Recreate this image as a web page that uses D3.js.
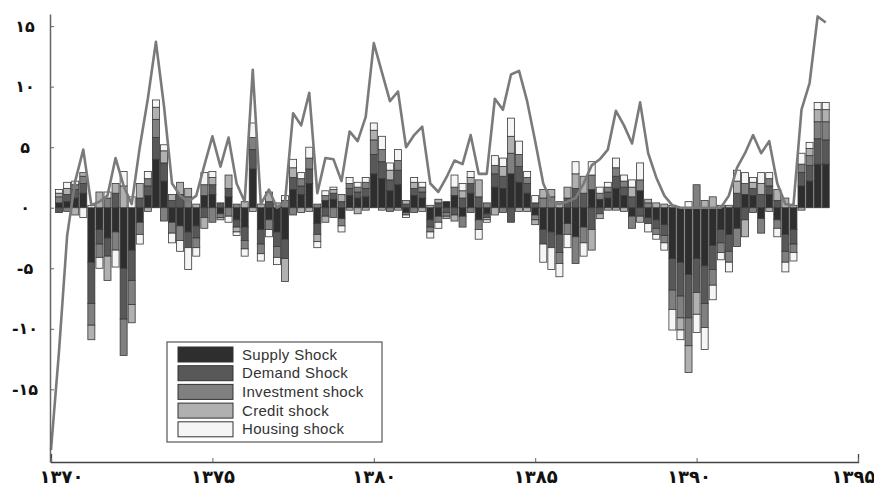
<!DOCTYPE html>
<html>
<head>
<meta charset="utf-8">
<script src="https://cdn.jsdelivr.net/npm/d3@7"></script>
<style>
  body { margin: 0; background: #fff; }
  .tick text { font-family: "DejaVu Sans", sans-serif; font-weight: bold; fill: #111; }
</style>
</head>
<body>
<div id="chart"></div>
<script>
// decomposition of the series into 5 shocks, quarterly 1370Q2 .. 1394Q1
var svgWidth = 874;
var svgHeight = 494;

var shockKeys = ["supply", "demand", "investment", "credit", "housing"];
var shockNames = ["Supply Shock", "Demand Shock", "Investment shock", "Credit shock", "Housing shock"];
var shockColors = ["#2e2e2e", "#585858", "#808080", "#b0b0b0", "#f5f5f5"];

// bar positions (quarters)
var quarters = d3.range(96).map(i => 1370.25 + i * 0.25);

var supply = [0.4, 0.5, 0.8, 1.2, -4.5, -1.8, -2.5, -2.0, -5.0, -3.5,
  -1.2, 1.0, 4.0, 2.2, -1.2, -1.5, -2.0, -1.5, 1.0, 1.1,
  -0.5, 0.9, -1.0, -1.6, 3.2, -1.8, -1.0, -2.0, -2.6, 1.5,
  1.1, 2.0, -1.3, 0.6, 0.7, -0.9, 1.0, 0.8, 0.9, 2.8,
  2.4, 1.4, 1.9, -0.4, 1.0, 0.8, -1.0, -0.7, 0.5, 1.0,
  -0.7, 1.2, -1.0, -0.5, 1.7, 1.6, 2.8, 2.1, 1.2, -0.6,
  -1.8, -2.0, -2.2, -1.3, -2.4, -1.6, 1.5, 0.7, 0.8, 1.6,
  1.0, -0.7, 1.4, -0.8, -1.0, -1.4, -4.2, -4.5, -5.5, -4.2,
  -4.8, -3.1, -1.8, -2.2, -1.7, 1.1, 1.0, -0.9, 1.1, -1.0,
  -2.2, -1.8, 1.8, 2.2, 3.6, 3.6];
var demand = [-0.4, 0.6, 0.7, 0.8, -3.4, -1.2, -1.5, 1.2, -4.2, -2.5,
  0.8, 0.8, 1.8, 1.5, 0.6, 1.1, -1.3, -1.0, -0.8, 0.8,
  0.4, 0.7, -0.6, -1.1, 1.6, -1.2, 0.5, -1.2, -1.6, 1.0,
  0.7, 1.2, -0.9, -0.7, 0.5, 0.5, 0.6, 0.5, 0.7, 1.6,
  1.4, 0.9, 1.2, 0.3, 0.6, 0.5, -0.6, 0.4, -0.4, -0.6,
  0.8, 0.8, 0.9, -0.3, 1.1, 1.0, -1.2, 1.3, 0.8, 0.4,
  -1.2, -1.3, -1.5, 0.8, 1.6, 1.2, -1.8, -0.5, 0.5, 1.0,
  0.7, 0.9, -0.7, -0.5, -0.7, -0.9, -2.6, -2.8, -3.6, -2.8,
  -3.1, -2.0, -1.1, -1.4, 1.2, -1.0, 0.6, 1.1, 0.7, 0.6,
  -1.4, -1.2, 1.1, 1.3, 2.1, 2.0];
var investment = [0.5, -0.3, 0.4, 0.6, -1.8, -1.1, 0.8, -1.5, -3.0, -2.0,
  -1.0, 0.6, 1.5, -1.1, -0.9, -1.2, 0.9, -0.8, 0.9, -1.2,
  -0.3, -0.7, 0.3, -0.7, 1.0, -0.8, -0.8, -0.9, 0.6, -0.6,
  0.6, 0.9, 0.3, 0.4, -0.8, -0.6, 0.4, 0.4, 0.5, 1.2,
  1.0, -0.3, 0.8, -0.2, -0.4, 0.4, -0.4, -0.5, -0.3, 0.7,
  -0.9, -0.4, -0.8, 0.4, 0.7, -0.4, 1.7, 1.0, 0.5, -0.4,
  0.8, 0.9, -0.9, -0.9, -2.2, -1.3, 1.2, 0.5, 0.4, 0.7,
  0.5, -1.0, 0.9, 0.4, -0.5, -0.6, -1.6, -1.8, -2.3, 1.9,
  -2.0, -1.3, -0.8, -0.9, -1.5, 0.9, -0.4, -1.2, 0.6, -0.7,
  -0.9, -0.7, 0.7, 0.8, 1.4, 1.5];
var credit = [0.3, 0.5, -0.6, 0.3, -1.2, 1.3, -2.0, 0.8, 1.8, -1.5,
  1.2, -0.3, 1.0, 1.0, 0.5, 1.0, 0.7, 0.3, -0.9, 0.6,
  -0.2, 1.1, -0.4, 0.5, -0.3, 0.3, 0.8, 0.4, -1.9, 0.8,
  -0.4, -0.3, -0.6, -0.5, 0.3, 0.6, -0.2, -0.5, -0.2, 0.8,
  -0.2, 0.8, -0.2, 0.3, 0.5, -0.3, 0.2, 0.3, -0.2, -0.5,
  0.6, 0.5, 1.4, -0.2, -0.6, 0.8, 1.4, -0.3, -0.3, -0.4,
  0.7, 0.6, 0.5, 0.9, 1.2, 1.4, -1.7, -0.4, -0.2, -0.2,
  -0.3, 0.8, -0.5, 0.3, 0.4, 0.3, 0.2, -1.0, -2.2, -1.8,
  0.6, 0.9, 0.2, 0.2, 1.0, -1.4, 0.5, 0.9, -0.3, 0.9,
  0.8, 0.2, -0.2, 0.6, 1.0, 1.0];
var housing = [0.3, 0.5, 0.3, -0.8, 0.2, -0.9, 0.5, -1.4, 1.2, 0.9,
  -0.8, 0.6, 0.6, 0.5, -0.8, -0.9, -1.8, -0.7, 1.0, 0.5,
  0.0, -0.5, -0.3, -0.6, 1.2, -0.6, -0.6, -0.6, 0.4, 0.7,
  0.5, 0.9, -0.5, 0.4, 0.2, -0.5, 0.5, 0.4, 0.4, 0.6,
  1.1, 0.6, 0.9, -0.2, 0.4, 0.4, -0.5, -0.5, 0.0, 1.0,
  0.6, 0.5, -0.8, -0.2, 0.8, 0.7, 1.5, 1.1, 0.5, 0.6,
  -1.5, -1.8, -1.1, -1.1, 1.0, -1.1, 1.1, 0.5, 0.4, 0.8,
  0.5, 0.6, 1.4, -0.7, -0.4, -0.6, -1.7, -0.8, 0.5, -1.5,
  -1.8, -1.2, -0.6, -0.8, 0.9, 0.9, 0.4, 0.9, 0.5, -0.7,
  -0.8, -0.7, 0.9, 0.5, 0.6, 0.6];

// line positions (quarters) and values
var lineQuarters = d3.range(97).map(i => 1370 + i * 0.25);
var lineValues = [-20, -11.8, -2.3, 2.2, 4.8, 0.2, 0.5, 1.0, 4.1, 1.8,
  0.3, 5.0, 9.0, 13.7, 8.4, 2.0, 1.0, 0.5, 1.0, 3.5,
  5.9, 3.4, 5.8, 2.0, 0.5, 11.4, 0.3, 1.5, 0.0, 0.5,
  7.8, 6.8, 9.5, 1.2, 4.1, 4.0, 2.2, 6.3, 5.5, 7.5,
  13.6, 11.2, 8.8, 9.6, 5.0, 6.0, 6.7, 2.0, 1.3, 2.5,
  3.9, 3.6, 6.0, 2.8, 2.8, 9.0, 8.1, 11.0, 11.3, 8.8,
  5.5, 2.0, 0.5, 0.3, 0.5, 0.8, 2.0, 3.5, 4.0, 4.8,
  8.0, 6.8, 5.3, 8.7, 4.5, 2.5, 1.0, 0.2, 0.0, 0.0,
  0.0, 0.0, 0.0, 0.0, 1.0, 3.3, 4.5, 6.0, 4.5, 5.5,
  2.0, 0.3, 0.2, 8.1, 10.3, 15.8, 15.3];

var yTicks = [15, 10, 5, 0, -5, -10, -15];
var xTicks = [1370, 1375, 1380, 1385, 1390, 1395];

function toPersian(v) {
  var s = String(Math.abs(v)).replace(/\d/g, d => "۰۱۲۳۴۵۶۷۸۹"[+d]);
  return v < 0 ? "-" + s : s;
}

var svg = d3.select("#chart")
  .append("svg")
  .attr("width", svgWidth)
  .attr("height", svgHeight);

var xScale = d3.scaleLinear().domain([1370, 1395]).range([51, 858]);
var yScale = d3.scaleLinear().domain([-21, 16]).range([462, 14]);

// build table for stacking
var table = quarters.map(function(t, i) {
  return { t: t, supply: supply[i], demand: demand[i], investment: investment[i],
           credit: credit[i], housing: housing[i] };
});

var stacked = d3.stack()
  .keys(shockKeys)
  .offset(d3.stackOffsetDiverging)(table);

var barW = 7;

svg.append("g")
  .selectAll("g")
  .data(stacked)
  .enter()
  .append("g")
  .attr("fill", (d, i) => shockColors[i])
  .selectAll("rect")
  .data(d => d)
  .enter()
  .append("rect")
  .attr("x", d => xScale(d.data.t) - barW / 2)
  .attr("y", d => yScale(Math.max(d[0], d[1])))
  .attr("width", barW)
  .attr("height", d => Math.abs(yScale(d[0]) - yScale(d[1])))
  .attr("stroke", "#383838")
  .attr("stroke-width", 0.8);

// the line on top
var line = d3.line()
  .x((d, i) => xScale(lineQuarters[i]))
  .y(d => yScale(d));

svg.append("path")
  .datum(lineValues)
  .attr("d", line)
  .attr("fill", "none")
  .attr("stroke", "#7a7a7a")
  .attr("stroke-width", 2.6)
  .attr("stroke-linejoin", "round");

// axes
var leftAxis = d3.axisLeft(yScale)
  .tickValues(yTicks)
  .tickSize(-4)
  .tickSizeOuter(0)
  .tickPadding(10)
  .tickFormat(toPersian);

var yAxis = svg.append("g")
  .attr("transform", "translate(50,0)")
  .call(leftAxis);
yAxis.select(".domain").attr("stroke", "#666").attr("stroke-width", 1.5);
yAxis.selectAll(".tick line").attr("stroke", "#666");
yAxis.selectAll(".tick text")
  .attr("x", -25)
  .attr("text-anchor", "middle")
  .style("font-size", "16px");

var bottomAxis = d3.axisBottom(xScale)
  .tickValues(xTicks)
  .tickSize(-4)
  .tickSizeOuter(-8)
  .tickPadding(8)
  .tickFormat(toPersian);

var xAxis = svg.append("g")
  .attr("transform", "translate(0,462)")
  .call(bottomAxis);
xAxis.select(".domain").attr("stroke", "#444").attr("stroke-width", 1.3);
xAxis.selectAll(".tick line").attr("stroke", "#666");
xAxis.selectAll(".tick text")
  .style("font-size", "18px")
  .attr("x", d => d === 1370 ? 10 : (d === 1390 ? -8 : (d === 1395 ? -5 : 0)));

// legend
var legend = svg.append("g").attr("transform", "translate(167,342)");
legend.append("rect")
  .attr("width", 215)
  .attr("height", 100)
  .attr("fill", "#fff")
  .attr("stroke", "#555")
  .attr("stroke-width", 1.2);

shockNames.forEach(function(name, i) {
  var row = legend.append("g").attr("transform", `translate(11, ${5 + i * 18.7})`);
  row.append("rect")
    .attr("width", 55)
    .attr("height", 15)
    .attr("fill", shockColors[i])
    .attr("stroke", "#333")
    .attr("stroke-width", 1);
  row.append("text")
    .attr("x", 64)
    .attr("y", 12.5)
    .style("font-family", "'Liberation Sans', Arial, sans-serif")
    .style("font-size", "15px")
    .style("letter-spacing", "0.3px")
    .attr("fill", "#333")
    .text(name);
});
</script>
</body>
</html>
